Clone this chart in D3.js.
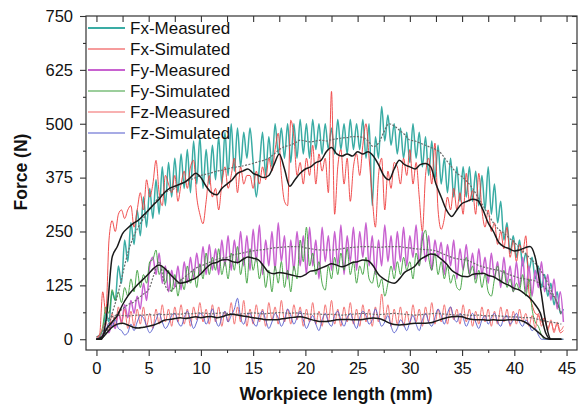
<!DOCTYPE html>
<html>
<head>
<meta charset="utf-8">
<script src="https://cdn.jsdelivr.net/npm/d3@7"></script>
<style>
  body { margin: 0; background: #fff; }
  svg { font-family: "Liberation Sans", Arial, sans-serif; }
</style>
</head>
<body>
<div id="chart"></div>
<script>
// sampling: noisy traces every 0.3 mm, smoothed traces every 0.5 mm
var noisyStep = 0.3;
var smoothStep = 0.5;

var xTicks = [0, 5, 10, 15, 20, 25, 30, 35, 40, 45];
var xMinor = [2.5, 7.5, 12.5, 17.5, 22.5, 27.5, 32.5, 37.5, 42.5];
var yTicks = [0, 125, 250, 375, 500, 625, 750];
var yMinor = [62.5, 187.5, 312.5, 437.5, 562.5, 687.5];

var legendNames = ["Fx-Measured", "Fx-Simulated", "Fy-Measured", "Fy-Simulated", "Fz-Measured", "Fz-Simulated"];
var legendColors = ["#3aaca4", "#ee3b3b", "#c862d0", "#3a9e3a", "#f26464", "#5058cc"];
var legendWidths = [2, 1.2, 2, 1.2, 1.2, 1.2];

var fxMeasured = [5,10,20,60,40,110,90,170,130,230,
  180,270,220,300,240,330,260,350,280,370,
  290,400,310,410,330,420,340,430,350,440,
  340,460,360,470,350,440,360,450,370,470,
  360,480,380,500,390,490,400,480,420,490,
  410,330,400,480,380,470,400,500,430,490,
  420,500,410,500,420,510,430,500,420,510,
  440,500,430,500,440,490,430,510,440,500,
  430,510,440,500,440,510,420,500,310,470,
  420,540,460,520,450,500,430,490,420,480,
  410,500,420,480,400,470,380,460,370,450,
  360,420,340,420,330,400,320,400,330,400,
  320,390,310,380,300,400,290,360,270,320,
  230,270,200,240,190,230,170,200,160,190,
  140,170,120,150,100,130,80,110,60,70];

var fxSimulated = [5,10,110,60,230,275,250,290,300,280,
  300,310,260,300,340,300,370,330,360,415,
  340,310,380,360,340,380,320,360,390,350,
  400,415,330,290,268,320,380,330,350,300,
  360,400,350,380,420,340,400,360,380,380,
  350,390,360,400,370,420,390,440,478,380,
  320,310,508,470,380,410,360,420,380,450,
  360,430,390,420,340,575,290,400,440,360,
  420,320,400,430,380,450,500,420,330,260,
  380,420,300,390,350,410,400,360,420,380,
  440,360,410,330,250,380,420,360,455,300,
  255,280,330,300,350,300,340,290,385,320,
  345,290,385,300,260,300,250,270,220,250,
  210,260,190,230,180,220,200,240,110,80,
  60,55,40,50,25,40,20,35,15,20];

var fyMeasured = [0,5,10,25,15,40,25,60,40,80,
  50,90,60,100,70,130,90,170,190,150,
  200,130,170,110,160,120,170,115,180,130,
  190,140,200,150,215,150,220,160,210,150,
  230,170,240,160,230,175,250,170,240,160,
  255,180,265,150,230,170,250,160,270,180,
  240,140,230,160,250,170,240,150,260,170,
  230,140,260,180,240,160,250,170,265,150,
  240,180,260,160,250,190,270,170,240,150,
  230,170,265,180,240,160,250,180,260,170,
  240,190,265,170,250,180,240,160,230,190,
  225,150,220,170,230,140,210,160,220,150,
  200,140,210,150,190,130,200,140,180,120,
  190,130,170,110,180,120,190,110,170,100,
  160,120,180,110,150,90,140,70,110,40];

var fySimulated = [0,5,30,75,60,115,90,110,85,120,
  100,140,110,160,120,150,130,180,185,207,
  150,170,130,160,110,150,100,140,115,170,
  130,160,120,175,140,200,150,190,160,210,
  150,180,140,200,160,215,150,190,130,210,
  160,190,140,175,120,160,110,170,130,180,
  120,160,110,170,140,230,180,260,170,200,
  150,180,130,114,170,140,190,150,200,160,
  210,150,180,130,170,150,190,140,130,160,
  120,140,100,130,170,140,180,150,190,160,
  180,140,200,170,230,253,190,160,200,150,
  180,140,170,130,150,120,114,160,190,150,
  170,130,160,120,150,110,100,140,170,130,
  160,120,140,110,130,114,150,100,140,70,
  40,30,10,0,0,0,0,0,0,0];

var fzMeasured = [0,10,25,40,20,60,30,75,35,70,
  25,65,30,70,35,75,30,60,25,70,
  35,80,40,70,30,75,40,80,35,70,
  30,75,45,85,40,70,35,80,40,75,
  30,65,40,85,35,75,40,90,30,70,
  35,80,40,70,30,85,45,75,35,90,
  40,70,35,80,45,75,30,70,40,85,
  35,65,30,80,40,90,35,70,30,75,
  40,85,35,70,30,80,40,70,30,75,
  40,105,45,80,30,70,35,75,30,65,
  35,80,40,70,30,75,40,85,35,70,
  40,80,35,75,45,70,35,80,40,70,
  30,65,35,75,40,70,30,65,35,75,
  40,70,30,65,35,70,40,60,30,55,
  25,60,30,50,20,45,15,40,20,30];

var fzSimulated = [0,0,5,20,37,30,45,25,20,10,
  15,35,20,40,55,50,30,15,25,45,
  60,40,25,35,55,60,40,30,50,65,
  45,25,40,60,55,35,50,70,45,30,
  50,65,40,55,70,95,50,35,55,60,
  40,30,55,65,45,25,40,60,50,30,
  45,70,55,35,50,65,45,25,40,55,
  35,20,45,60,40,30,55,65,45,30,
  50,60,40,25,50,65,55,35,45,70,
  50,30,40,55,30,15,25,45,35,20,
  40,55,35,20,45,60,40,30,50,70,
  55,35,60,75,50,40,60,50,30,45,
  60,40,25,45,55,35,50,60,40,30,
  50,55,35,45,60,40,30,45,35,20,
  25,10,0,0,0,0,0,0,0,0];

// smoothed (black) and averaged (grey dotted) traces
var fxSmooth = [0,0,60,190,215,245,258,268,276,288,
  300,313,325,340,350,355,360,365,375,385,
  375,355,340,335,350,360,370,385,390,395,
  385,380,375,380,405,430,395,355,370,385,
  395,400,410,415,435,445,430,425,430,425,
  435,430,435,425,405,380,370,395,415,405,
  400,395,405,408,400,360,330,300,285,300,
  315,320,325,322,300,270,250,225,215,210,
  205,207,212,215,190,120,40,0,0,0];

var fxMean = [0,5,20,60,100,150,200,235,260,280,
  300,315,330,340,345,350,360,365,370,375,
  380,383,386,390,392,395,398,400,402,405,
  408,412,415,420,430,440,447,450,455,462,
  460,458,460,462,460,463,465,467,468,470,
  470,468,460,447,455,480,500,495,485,475,
  462,460,455,450,445,440,431,415,400,385,
  377,365,350,330,310,290,270,255,246,235,
  225,212,200,188,176,160,140,114,90,55];

var fySmooth = [0,5,25,40,55,80,100,115,128,140,
  152,165,172,165,152,140,130,132,137,142,
  152,165,175,178,184,185,180,178,185,191,
  188,184,170,155,152,155,153,150,147,145,
  150,158,160,165,170,175,172,168,172,178,
  180,184,182,170,150,140,133,130,140,155,
  162,170,185,192,198,195,186,175,160,152,
  146,145,150,152,153,148,145,138,130,125,
  118,114,105,95,80,60,15,0,0,0];

var fyMean = [0,5,15,40,60,70,80,85,95,105,
  115,150,180,130,112,120,135,145,155,165,
  170,175,180,185,188,190,195,198,200,203,
  205,207,208,210,212,213,214,215,215,215,
  212,210,208,207,207,207,208,210,212,213,
  214,215,215,214,213,214,215,215,215,213,
  212,210,209,208,207,205,200,195,190,187,
  185,183,178,172,168,165,162,160,155,150,
  146,142,140,138,135,128,118,106,90,60];

var fzSmooth = [0,2,15,28,35,37,33,28,26,28,
  30,33,38,44,46,48,50,48,50,52,
  50,52,53,50,52,56,58,56,54,52,
  50,48,46,45,45,46,48,50,51,52,
  50,46,43,41,41,43,45,46,46,45,
  45,46,48,49,48,44,38,34,33,34,
  36,37,37,37,38,42,46,50,52,53,
  52,48,46,45,45,44,45,44,44,45,
  45,44,40,32,22,12,2,0,0,0];

var fzMean = [0,10,45,52,55,55,54,55,56,56,
  57,56,58,57,58,59,58,60,59,60,
  61,60,59,60,61,60,59,58,59,60,
  61,60,59,60,61,62,61,60,61,60,
  59,58,59,58,57,58,57,56,57,58,
  59,60,59,58,57,58,59,60,59,58,
  57,56,57,58,59,60,59,58,57,56,
  57,56,55,56,55,54,55,54,53,52,
  52,51,50,50,48,45,42,40,38,35];

var width = 580, height = 406;
var plotLeft = 86, plotRight = 577, plotTop = 16, plotBottom = 350;

var x = d3.scaleLinear().domain([-1, 46]).range([plotLeft, plotRight]);
var y = d3.scaleLinear().domain([-25, 750]).range([plotBottom, plotTop]);

var svg = d3.select("#chart").append("svg")
  .attr("width", width)
  .attr("height", height);

svg.append("clipPath").attr("id", "clip")
  .append("rect")
  .attr("x", plotLeft).attr("y", plotTop)
  .attr("width", plotRight - plotLeft).attr("height", plotBottom - plotTop);

function toPoints(vals, step) {
  return vals.map(function(v, i) { return [i * step, v]; });
}

var line = d3.line()
  .x(function(d) { return x(d[0]); })
  .y(function(d) { return y(d[1]); })
  .curve(d3.curveMonotoneX);

var plot = svg.append("g").attr("clip-path", "url(#clip)");

var noisy = [fxMeasured, fxSimulated, fyMeasured, fySimulated, fzMeasured, fzSimulated];
noisy.forEach(function(vals, k) {
  plot.append("path")
    .attr("d", line(toPoints(vals, noisyStep)))
    .attr("fill", "none")
    .attr("stroke", legendColors[k])
    .attr("stroke-width", legendWidths[k] * 0.75)
    .attr("stroke-linejoin", "round");
});

[fxMean, fyMean, fzMean].forEach(function(vals) {
  plot.append("path")
    .attr("d", line(toPoints(vals, smoothStep)))
    .attr("fill", "none")
    .attr("stroke", "#6a6a6a")
    .attr("stroke-width", 1.2)
    .attr("stroke-dasharray", "2,1.5");
});

[fxSmooth, fySmooth, fzSmooth].forEach(function(vals) {
  plot.append("path")
    .attr("d", line(toPoints(vals, smoothStep)))
    .attr("fill", "none")
    .attr("stroke", "#1a1a1a")
    .attr("stroke-width", 1.5)
    .attr("stroke-linejoin", "round");
});

// axes: labelled bottom/left, mirrored inward ticks on top/right
function styleAxis(g) {
  g.select(".domain").remove();
  g.selectAll("line").attr("stroke", "#333").attr("stroke-width", 1.1);
  g.selectAll("text").attr("fill", "#111").style("font-size", "16.5px");
}

svg.append("g").attr("transform", "translate(0," + plotBottom + ")")
  .call(d3.axisBottom(x).tickValues(xTicks).tickSize(6).tickPadding(6).tickFormat(d3.format("d")))
  .call(styleAxis);
svg.append("g").attr("transform", "translate(0," + plotBottom + ")")
  .call(d3.axisBottom(x).tickValues(xMinor).tickSize(3).tickFormat(""))
  .call(styleAxis);
svg.append("g").attr("transform", "translate(" + plotLeft + ",0)")
  .call(d3.axisLeft(y).tickValues(yTicks).tickSize(6).tickPadding(7).tickFormat(d3.format("d")))
  .call(styleAxis);
svg.append("g").attr("transform", "translate(" + plotLeft + ",0)")
  .call(d3.axisLeft(y).tickValues(yMinor).tickSize(3).tickFormat(""))
  .call(styleAxis);

svg.append("g").attr("transform", "translate(0," + plotTop + ")")
  .call(d3.axisTop(x).tickValues(xTicks.concat(xMinor)).tickSize(-6).tickFormat(""))
  .call(styleAxis);
svg.append("g").attr("transform", "translate(" + plotRight + ",0)")
  .call(d3.axisRight(y).tickValues(yTicks.concat(yMinor)).tickSize(-5).tickFormat(""))
  .call(styleAxis);

svg.append("rect")
  .attr("x", plotLeft).attr("y", plotTop)
  .attr("width", plotRight - plotLeft).attr("height", plotBottom - plotTop)
  .attr("fill", "none")
  .attr("stroke", "#333")
  .attr("stroke-width", 1.2);

// axis titles
svg.append("text")
  .attr("x", 336).attr("y", 400)
  .attr("text-anchor", "middle")
  .style("font-size", "17.5px").style("font-weight", "bold")
  .attr("fill", "#111")
  .text("Workpiece length (mm)");

svg.append("text")
  .attr("transform", "translate(27,172) rotate(-90)")
  .attr("text-anchor", "middle")
  .style("font-size", "17.5px").style("font-weight", "bold")
  .attr("fill", "#111")
  .text("Force (N)");

// legend
var legend = svg.append("g");
legendNames.forEach(function(name, k) {
  var ly = 28 + k * 21;
  legend.append("line")
    .attr("x1", 88).attr("x2", 125)
    .attr("y1", ly).attr("y2", ly)
    .attr("stroke", legendColors[k])
    .attr("stroke-width", legendWidths[k]);
  legend.append("text")
    .attr("x", 130).attr("y", ly + 6)
    .style("font-size", "17px")
    .attr("fill", "#111")
    .text(name);
});
</script>
</body>
</html>
